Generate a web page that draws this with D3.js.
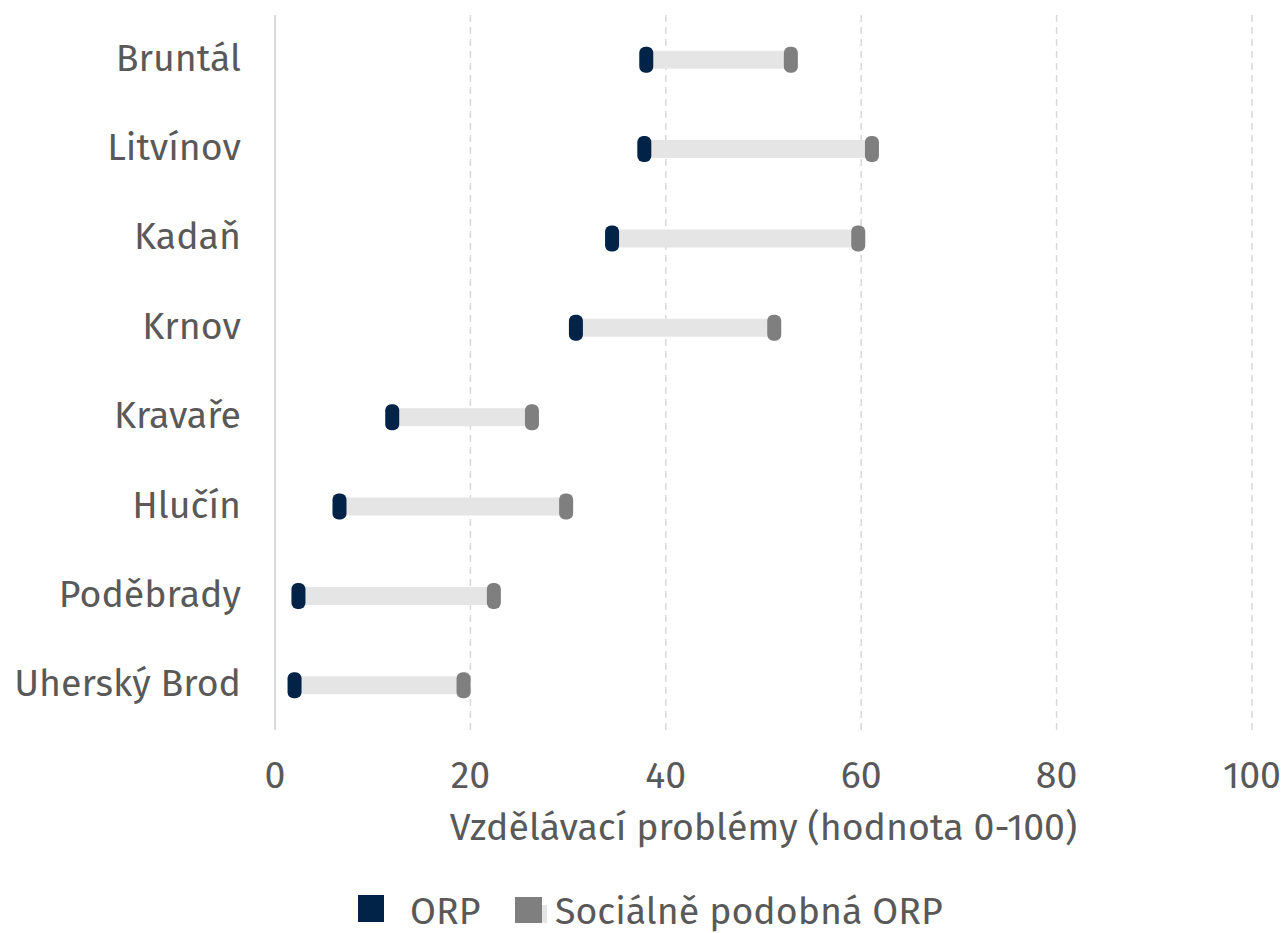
<!DOCTYPE html>
<html><head><meta charset="utf-8">
<script src="https://cdn.jsdelivr.net/npm/d3@7/dist/d3.min.js"></script>
<style>body{margin:0;background:#fff}svg{display:block}text{font-family:"Fira Sans","Noto Sans","Open Sans",sans-serif;fill:#595959}</style>
</head><body><svg id="c" width="1286" height="933"></svg>
<script>
const categories = ["Bruntál","Litvínov","Kadaň","Krnov","Kravaře","Hlučín","Poděbrady","Uherský Brod"];
const orpValues = [38.0, 37.8, 34.5, 30.8, 12.0, 6.6, 2.4, 2.0];
const similarValues = [52.8, 61.1, 59.7, 51.1, 26.3, 29.8, 22.4, 19.3];
const xTicks = [0, 20, 40, 60, 80, 100];
const legendLabels = ["ORP", "Sociálně podobná ORP"];
const axisTitle = "Vzdělávací problémy (hodnota 0-100)";

const svg = d3.select("#c");
const x = d3.scaleLinear().domain([0,100]).range([275,1252]);
const y = d3.scaleBand().domain(categories).range([15,730]);
const fs = 37.5;

// grid
svg.append("g").selectAll("line").data(xTicks.filter(d=>d>0)).join("line")
  .attr("x1",d=>x(d)).attr("x2",d=>x(d)).attr("y1",15).attr("y2",730)
  .attr("stroke","#d9d9d9").attr("stroke-width",1.5).attr("stroke-dasharray","7,5");
svg.append("line").attr("x1",x(0)).attr("x2",x(0)).attr("y1",15).attr("y2",730)
  .attr("stroke","#d9d9d9").attr("stroke-width",2);

const data = categories.map((c,i)=>({c, a:orpValues[i], b:similarValues[i]}));
const cy = d=>y(d.c)+y.bandwidth()/2;
// range bars
svg.append("g").selectAll("line").data(data).join("line")
  .attr("x1",d=>x(d.a)).attr("x2",d=>x(d.b)).attr("y1",cy).attr("y2",cy)
  .attr("stroke","#e5e5e5").attr("stroke-width",18);
// markers
const mw=14, mh=26;
svg.append("g").selectAll("rect").data(data).join("rect")
  .attr("x",d=>x(d.b)-mw/2).attr("y",d=>cy(d)-mh/2).attr("width",mw).attr("height",mh)
  .attr("rx",6).attr("fill","#7f7f7f");
svg.append("g").selectAll("rect").data(data).join("rect")
  .attr("x",d=>x(d.a)-mw/2).attr("y",d=>cy(d)-mh/2).attr("width",mw).attr("height",mh)
  .attr("rx",6).attr("fill","#002347");

// category labels
svg.append("g").selectAll("text").data(categories).join("text")
  .attr("x",241).attr("y",c=>y(c)+y.bandwidth()/2+11)
  .attr("text-anchor","end").attr("font-size",fs).text(c=>c);

// x ticks
svg.append("g").selectAll("text").data(xTicks).join("text")
  .attr("x",d=>x(d)).attr("y",788).attr("text-anchor","middle").attr("font-size",fs).text(d=>d);
svg.append("text").attr("x",(x(0)+x(100))/2).attr("y",840).attr("text-anchor","middle")
  .attr("font-size",fs).text(axisTitle);

// legend
const lg = svg.append("g");
lg.append("rect").attr("x",358).attr("y",895).attr("width",26).attr("height",27).attr("fill","#002347");
lg.append("text").attr("x",410).attr("y",924).attr("font-size",fs).text(legendLabels[0]);
lg.append("rect").attr("x",524).attr("y",905).attr("width",23).attr("height",18).attr("fill","#e5e5e5");
lg.append("rect").attr("x",515).attr("y",897).attr("width",27).attr("height",26).attr("fill","#7f7f7f");
lg.append("text").attr("x",555).attr("y",924).attr("font-size",fs).text(legendLabels[1]);
</script></body></html>
